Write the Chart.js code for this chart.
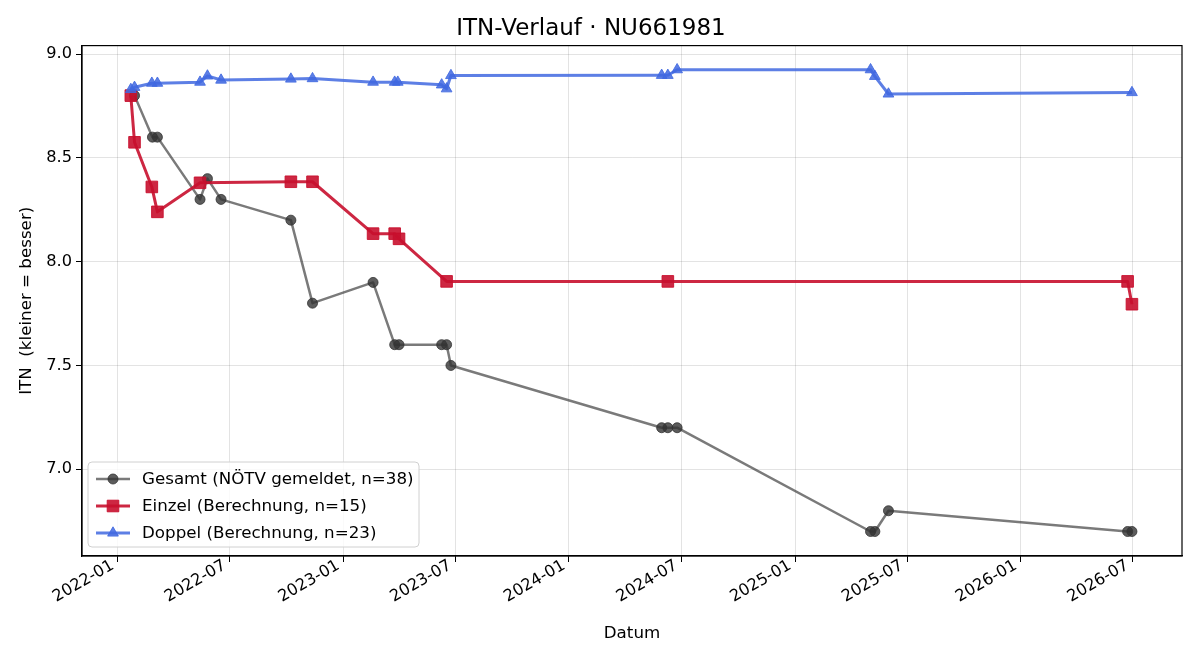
<!DOCTYPE html>
<html>
<head>
<meta charset="utf-8">
<script src="https://cdn.jsdelivr.net/npm/chart.js@4.4.1/dist/chart.umd.min.js"></script>
<style>
  html, body { margin: 0; padding: 0; background: #fff; }
  #wrap { width: 1200px; height: 660px; }
</style>
</head>
<body>
<div id="wrap"><canvas id="itnChart" width="1200" height="660"></canvas></div>
<script>
// Gesamt (gemeldet)
const gesamtDates = ['2022-01-28','2022-02-26','2022-03-06','2022-05-14','2022-05-26','2022-06-17','2022-10-08','2022-11-12','2023-02-18','2023-03-25','2023-04-01','2023-06-09','2023-06-17','2023-06-24','2024-05-30','2024-06-09','2024-06-24','2025-05-03','2025-05-10','2025-06-01','2026-06-23','2026-06-30'];
const gesamtValues = [8.8, 8.6, 8.6, 8.3, 8.4, 8.3, 8.2, 7.8, 7.9, 7.6, 7.6, 7.6, 7.6, 7.5, 7.2, 7.2, 7.2, 6.7, 6.7, 6.8, 6.7, 6.7];

// Einzel (Berechnung)
const einzelDates = ['2022-01-22','2022-01-28','2022-02-25','2022-03-06','2022-05-14','2022-10-08','2022-11-12','2023-02-18','2023-03-25','2023-04-01','2023-06-17','2024-06-09','2026-06-23','2026-06-30'];
const einzelValues = [8.8, 8.575, 8.36, 8.24, 8.38, 8.385, 8.385, 8.135, 8.135, 8.11, 7.905, 7.905, 7.905, 7.795];

// Doppel (Berechnung)
const doppelDates = ['2022-01-22','2022-01-28','2022-02-25','2022-03-06','2022-05-14','2022-05-26','2022-06-17','2022-10-08','2022-11-12','2023-02-18','2023-03-25','2023-03-30','2023-06-09','2023-06-17','2023-06-24','2024-05-30','2024-06-09','2024-06-24','2025-05-03','2025-05-10','2025-06-01','2026-06-30'];
const doppelValues = [8.83, 8.84, 8.86, 8.86, 8.865, 8.895, 8.875, 8.88, 8.882, 8.865, 8.865, 8.865, 8.852, 8.833, 8.897, 8.898, 8.898, 8.925, 8.925, 8.893, 8.808, 8.815];

// axis ticks
const xTickLabels = ['2022-01','2022-07','2023-01','2023-07','2024-01','2024-07','2025-01','2025-07','2026-01','2026-07'];
const yTickValues = [7.0, 7.5, 8.0, 8.5, 9.0];
const xRange = ['2021-11-04', '2026-09-19'];
const yRange = [6.582, 9.041];

const FONT = 'DejaVu Sans';

function toDay(s) {
    const p = s.split('-').map(Number);
    return Date.UTC(p[0], p[1] - 1, p[2] || 1) / 86400000;
}

function points(dates, values) {
    return dates.map((d, i) => ({ x: toDay(d), y: values[i] }));
}

const xTickDays = xTickLabels.map(toDay);

// box around the plot (matplotlib spines)
const frame = {
    id: 'frame',
    afterDatasetsDraw(chart) {
        const a = chart.chartArea;
        const ctx = chart.ctx;
        ctx.save();
        ctx.strokeStyle = '#000';
        ctx.lineWidth = 1.2;
        ctx.strokeRect(a.left, a.top, a.right - a.left, a.bottom - a.top);
        ctx.restore();
    }
};

// legend box in the lower left corner
const boxLegend = {
    id: 'boxLegend',
    afterDraw(chart) {
        const a = chart.chartArea;
        const ctx = chart.ctx;
        const left = a.left + 6, w = 331, h = 85;
        const top = a.bottom - 9 - h;
        ctx.save();
        ctx.beginPath();
        ctx.roundRect(left, top, w, h, 4);
        ctx.fillStyle = 'rgba(255,255,255,0.8)';
        ctx.fill();
        ctx.strokeStyle = '#d0d0d0';
        ctx.lineWidth = 1;
        ctx.stroke();
        ctx.font = '16.7px "' + FONT + '"';
        ctx.textBaseline = 'middle';
        ctx.textAlign = 'left';
        chart.data.datasets.forEach((ds, i) => {
            const y = top + 17 + i * 27;
            ctx.beginPath();
            ctx.strokeStyle = ds.borderColor;
            ctx.lineWidth = ds.borderWidth;
            ctx.moveTo(left + 8, y);
            ctx.lineTo(left + 42, y);
            ctx.stroke();
            ctx.fillStyle = ds.pointBackgroundColor;
            ctx.strokeStyle = ds.pointBorderColor;
            ctx.lineWidth = 1;
            Chart.helpers.drawPoint(ctx, { pointStyle: ds.pointStyle, radius: ds.pointRadius, rotation: 0, borderWidth: 1 }, left + 25, y);
            ctx.fillStyle = '#000';
            ctx.fillText(ds.label, left + 54, y + 1);
        });
        ctx.restore();
    }
};

new Chart(document.getElementById('itnChart'), {
    type: 'line',
    data: {
        datasets: [{
            label: 'Gesamt (NÖTV gemeldet, n=38)',
            data: points(gesamtDates, gesamtValues),
            borderColor: 'rgba(51,51,51,0.65)',
            borderWidth: 2.5,
            pointStyle: 'circle',
            pointRadius: 5,
            pointBackgroundColor: 'rgba(51,51,51,0.8)',
            pointBorderColor: 'rgba(51,51,51,0.8)',
            pointBorderWidth: 1,
            order: 3
        }, {
            label: 'Einzel (Berechnung, n=15)',
            data: points(einzelDates, einzelValues),
            borderColor: 'rgba(200,16,46,0.9)',
            borderWidth: 3,
            pointStyle: 'rect',
            pointRadius: 8.2,
            pointBackgroundColor: 'rgba(200,16,46,0.9)',
            pointBorderColor: 'rgba(200,16,46,0.9)',
            pointBorderWidth: 1,
            order: 2
        }, {
            label: 'Doppel (Berechnung, n=23)',
            data: points(doppelDates, doppelValues),
            borderColor: 'rgba(65,105,225,0.85)',
            borderWidth: 3,
            pointStyle: 'triangle',
            pointRadius: 6.2,
            pointBackgroundColor: 'rgba(65,105,225,0.85)',
            pointBorderColor: 'rgba(65,105,225,0.85)',
            pointBorderWidth: 1,
            order: 1
        }]
    },
    options: {
        responsive: false,
        animation: false,
        devicePixelRatio: 1,
        elements: { line: { tension: 0, borderJoinStyle: 'round' } },
        layout: { padding: { left: 0, right: 18, top: 0, bottom: 12 } },
        plugins: {
            legend: { display: false },
            tooltip: { enabled: false },
            title: {
                display: true,
                text: 'ITN-Verlauf · NU661981',
                color: '#000',
                font: { family: FONT, size: 23, weight: 'normal' },
                padding: { top: 15, bottom: 3 }
            }
        },
        scales: {
            x: {
                type: 'linear',
                min: toDay(xRange[0]),
                max: toDay(xRange[1]),
                afterBuildTicks: axis => { axis.ticks = xTickDays.map(v => ({ value: v })); },
                afterFit: axis => { axis.height = 92; },
                ticks: {
                    color: '#000',
                    font: { family: FONT, size: 16.2 },
                    minRotation: 30,
                    maxRotation: 30,
                    padding: -6,
                    labelOffset: -5,
                    callback: v => xTickLabels[xTickDays.indexOf(v)]
                },
                grid: { color: 'rgba(0,0,0,0.11)', tickColor: '#000', tickLength: 6 },
                border: { display: true, color: '#000', width: 1.2 },
                title: {
                    display: true,
                    text: 'Datum',
                    color: '#000',
                    font: { family: FONT, size: 16.7 },
                    padding: { top: 4, bottom: 4 }
                }
            },
            y: {
                min: yRange[0],
                max: yRange[1],
                afterBuildTicks: axis => { axis.ticks = yTickValues.map(v => ({ value: v })); },
                afterFit: axis => { axis.width = 82; },
                ticks: {
                    color: '#000',
                    font: { family: FONT, size: 16.2 },
                    padding: 4,
                    callback: v => v.toFixed(1)
                },
                grid: { color: 'rgba(0,0,0,0.11)', tickColor: '#000', tickLength: 6 },
                border: { display: true, color: '#000', width: 1.2 },
                title: {
                    display: true,
                    text: 'ITN  (kleiner = besser)',
                    color: '#000',
                    font: { family: FONT, size: 16.7 },
                    padding: { top: 17, bottom: 4 }
                }
            }
        }
    },
    plugins: [frame, boxLegend]
});
</script>
</body>
</html>
